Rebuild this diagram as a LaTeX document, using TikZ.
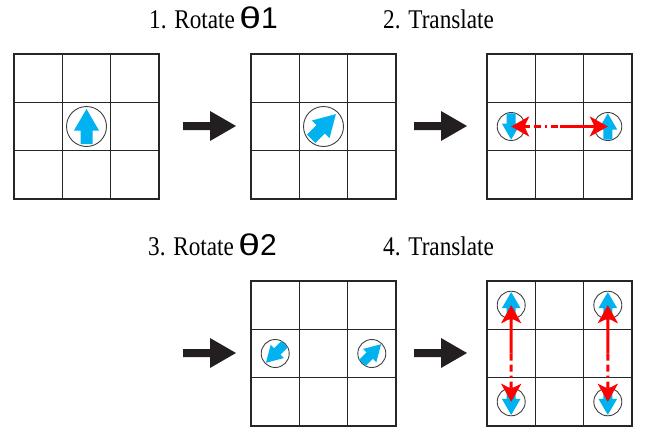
\documentclass[tikz,border=0pt]{standalone}
\usepackage{fontspec}
\setmainfont{Liberation Serif}
\newfontfamily\thetafont{Liberation Sans}
\usetikzlibrary{arrows.meta,calc}
\definecolor{arrowblue}{RGB}{0,178,240}
\definecolor{redarr}{RGB}{255,0,0}
\definecolor{darkarrow}{RGB}{35,31,32}
\newcommand{\thetalbl}[1]{{\thetafont\fontsize{30}{30}\selectfont\scalebox{1.3}[1]{θ}#1}}
\begin{document}
\begin{tikzpicture}[x=1pt,y=-1pt,
  gridline/.style={line width=1.2pt, draw=black!85},
  bigcirc/.style={circle, draw=black!75, line width=0.9pt, minimum size=40pt, inner sep=0pt},
  smallcirc/.style={circle, draw=black!75, line width=0.9pt, minimum size=28pt, inner sep=0pt},
  lbl/.style={anchor=base west, inner sep=0pt, font=\fontsize{27}{30}\selectfont},
  blockarrow/.pic={\fill[arrowblue] (-6,17.5) -- (-6,4) -- (-12.5,4) -- (0,-17.5) -- (12.5,4) -- (6,4) -- (6,17.5) -- cycle;},
  fatarrow/.pic={\fill[darkarrow] (0,-4) -- (27,-4) -- (27,-15) -- (53,0) -- (27,15) -- (27,4) -- (0,4) -- cycle;},
  gridthree/.pic={\draw[gridline] (0,0) rectangle (145,145);
    \draw[gridline] (48.33,0) -- (48.33,145) (96.67,0) -- (96.67,145)
      (0,48.33) -- (145,48.33) (0,96.67) -- (145,96.67);},
  redline/.style={draw=redarr, line width=3pt},
  dashpart/.style={dash pattern=on 7pt off 4pt on 7pt off 4pt on 2pt off 4pt},
  redtip/.tip={Stealth[length=18pt,width=20pt,inset=5pt]}
]
\useasboundingbox (0,0) rectangle (655,431);

% labels
\node[lbl] (t1) at (149,28) {\scalebox{0.86}[1]{1. Rotate}\,\thetalbl{1}};
\node[lbl] (t2) at (383,28) {\scalebox{0.86}[1]{2. Translate}};
\node[lbl] (t3) at (148,255) {\scalebox{0.86}[1]{3. Rotate}\,\thetalbl{2}};
\node[lbl] (t4) at (383,255) {\scalebox{0.86}[1]{4. Translate}};

% grids
\pic at (14,54) {gridthree};
\pic at (251,54) {gridthree};
\pic at (487,54) {gridthree};
\pic at (251,281) {gridthree};
\pic at (487,281) {gridthree};

% black arrows
\pic at (183,126) {fatarrow};
\pic at (414,126) {fatarrow};
\pic at (183,353) {fatarrow};
\pic at (414,353) {fatarrow};

% circles
\node[bigcirc] (c1) at (86.5,126.5) {};
\node[bigcirc] (c2) at (323.5,126.5) {};
\node[smallcirc] (c31) at (511.2,126.5) {};
\node[smallcirc] (c32) at (607.8,126.5) {};
\node[smallcirc] (c41) at (275.2,353.5) {};
\node[smallcirc] (c42) at (371.8,353.5) {};
\node[smallcirc] (c51) at (511.2,305.2) {};
\node[smallcirc] (c52) at (607.8,305.2) {};
\node[smallcirc] (c53) at (511.2,401.8) {};
\node[smallcirc] (c54) at (607.8,401.8) {};

% blue arrows
\pic at (c1.center) {blockarrow};
\pic[rotate=-45] at (c2.center) {blockarrow};
\pic[rotate=180, scale=0.75] at (c31.center) {blockarrow};
\pic[scale=0.75] at (c32.center) {blockarrow};
\pic[rotate=135, scale=0.75] at (c41.center) {blockarrow};
\pic[rotate=-45, scale=0.75] at (c42.center) {blockarrow};
\pic[scale=0.75] at (c51.center) {blockarrow};
\pic[scale=0.75] at (c52.center) {blockarrow};
\pic[rotate=180, scale=0.75] at (c53.center) {blockarrow};
\pic[rotate=180, scale=0.75] at (c54.center) {blockarrow};

% red swap arrows
\coordinate (m3) at ($(c31.center)!0.5!(c32.center)$);
\draw[redline, dashpart, {redtip}-] (c31.center) -- (m3);
\draw[redline, -{redtip}] (m3) -- (c32.center);
\coordinate (m5a) at ($(c51.center)!0.5!(c53.center)$);
\draw[redline, {redtip}-] (c51.center) -- (m5a);
\draw[redline, dashpart, -{redtip}] (m5a) -- (c53.center);
\coordinate (m5b) at ($(c52.center)!0.5!(c54.center)$);
\draw[redline, {redtip}-] (c52.center) -- (m5b);
\draw[redline, dashpart, -{redtip}] (m5b) -- (c54.center);
\end{tikzpicture}
\end{document}
